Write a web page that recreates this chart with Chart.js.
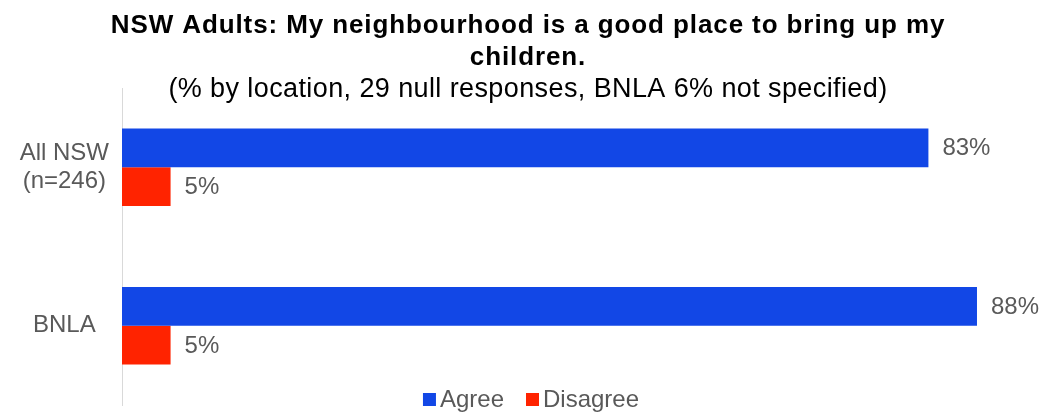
<!DOCTYPE html>
<html lang="en">
<head>
    <meta charset="UTF-8">
    <title>Good place to bring up children</title>
    <script src="https://cdn.jsdelivr.net/npm/chart.js@4.4.1/dist/chart.umd.min.js"></script>
    <style>
        body { margin: 0; background: #fff; }
        #wrap { width: 1045px; height: 412px; }
    </style>
</head>
<body>
<div id="wrap">
    <canvas id="myChart" width="1045" height="412"></canvas>
</div>
<script>
    var locations = [['All NSW', '(n=246)'], 'BNLA'];
    var agree = [83, 88];
    var disagree = [5, 5];
    var seriesNames = ['Agree', 'Disagree'];
    var seriesColors = ['#1247E6', '#FF2300'];

    var titleLines = ['NSW Adults: My neighbourhood is a good place to bring up my', 'children.'];
    var subtitleText = '(% by location, 29 null responses, BNLA 6% not specified)';

    var labelGrey = '#595959';
    var font = 'Arial, "Liberation Sans", sans-serif';

    // heading block, drawn by hand so it can overlap the top of the plot
    var heading = {
        id: 'heading',
        afterDraw: function (chart) {
            var ctx = chart.ctx;
            ctx.save();
            ctx.fillStyle = '#000';
            ctx.textAlign = 'center';
            ctx.textBaseline = 'alphabetic';
            ctx.font = 'bold 26px ' + font;
            ctx.letterSpacing = '0.9px';
            ctx.fillText(titleLines[0], 528, 33);
            ctx.fillText(titleLines[1], 528, 65);
            ctx.font = '27px ' + font;
            ctx.letterSpacing = '0.4px';
            ctx.fillText(subtitleText, 528, 97);
            ctx.restore();
        }
    };

    // percent labels at the end of each bar
    var valueLabels = {
        id: 'valueLabels',
        afterDatasetsDraw: function (chart) {
            var ctx = chart.ctx;
            ctx.save();
            ctx.font = '24px ' + font;
            ctx.fillStyle = labelGrey;
            ctx.textAlign = 'left';
            ctx.textBaseline = 'middle';
            chart.data.datasets.forEach(function (ds, i) {
                chart.getDatasetMeta(i).data.forEach(function (bar, j) {
                    ctx.fillText(ds.data[j] + '%', bar.x + 14, bar.y + 1);
                });
            });
            ctx.restore();
        }
    };

    // legend sits over the bottom of the plot area
    var bottomLegend = {
        id: 'bottomLegend',
        afterDraw: function (chart) {
            var ctx = chart.ctx;
            ctx.save();
            ctx.font = '24px ' + font;
            ctx.textBaseline = 'middle';
            var box = 13, gap = 4, spacing = 22;
            var widths = chart.data.datasets.map(function (ds) {
                return box + gap + ctx.measureText(ds.label).width;
            });
            var total = widths.reduce(function (a, b) { return a + b; }, 0) + spacing * (widths.length - 1);
            var x = 531 - total / 2;
            var y = 400;
            chart.data.datasets.forEach(function (ds, i) {
                ctx.fillStyle = ds.backgroundColor;
                ctx.fillRect(x, y - 7, box, box);
                ctx.fillStyle = labelGrey;
                ctx.fillText(ds.label, x + box + gap, y);
                x += widths[i] + spacing;
            });
            ctx.restore();
        }
    };

    var ctx = document.querySelector('#myChart').getContext('2d');
    new Chart(ctx, {
        type: 'bar',
        data: {
            labels: locations,
            datasets: [
                { label: seriesNames[0], data: agree, backgroundColor: seriesColors[0] },
                { label: seriesNames[1], data: disagree, backgroundColor: seriesColors[1] }
            ]
        },
        options: {
            indexAxis: 'y',
            responsive: false,
            animation: false,
            devicePixelRatio: 1,
            categoryPercentage: 0.49,
            barPercentage: 1.0,
            layout: { padding: { left: 0, right: 0, top: 88, bottom: 7 } },
            plugins: {
                legend: { display: false },
                tooltip: { enabled: false },
                title: { display: false }
            },
            scales: {
                x: {
                    display: false,
                    min: 0,
                    max: 95
                },
                y: {
                    afterFit: function (scale) {
                        scale.width = 122;
                        scale.paddingTop = 0;
                        scale.paddingBottom = 0;
                    },
                    grid: { display: false, drawTicks: false },
                    border: { display: true, color: '#d9d9d9', width: 1 },
                    ticks: {
                        color: labelGrey,
                        crossAlign: 'center',
                        padding: 13,
                        font: { family: font, size: 24, lineHeight: 1.15 }
                    }
                }
            }
        },
        plugins: [valueLabels, bottomLegend, heading]
    });
</script>
</body>
</html>
